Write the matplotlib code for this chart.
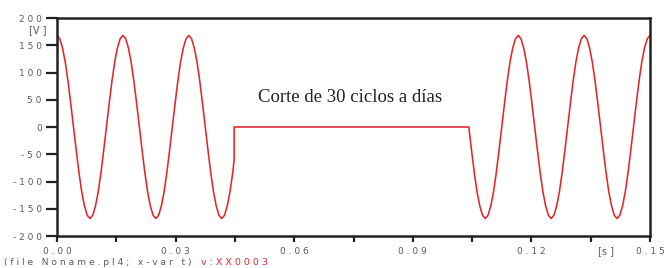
import numpy as np
import matplotlib
matplotlib.use("Agg")
import matplotlib.pyplot as plt

# ATP/EMTP output, sampled every 15 electrical degrees (60 Hz)
step = 1.0 / 1440.0

# before the cut: t = 0 ... 64*step
v_before = [168, 162, 145, 119, 84, 43, 0, -43, -84, -119, -145, -162,
            -168, -162, -145, -119, -84, -43, 0, 43, 84, 119, 145, 162,
            168, 162, 145, 119, 84, 43, 0, -43, -84, -119, -145, -162,
            -168, -162, -145, -119, -84, -43, 0, 43, 84, 119, 145, 162,
            168, 162, 145, 119, 84, 43, 0, -43, -84, -119, -145, -162,
            -168, -162, -145, -119, -84]
t_cut = 0.0448
v_at_cut = -60

# after reclosing: t = 150*step ... 216*step
t_reclose = 150 * step
v_after = [0, -43, -84, -119, -145, -162, -168, -162, -145, -119, -84, -43,
           0, 43, 84, 119, 145, 162, 168, 162, 145, 119, 84, 43,
           0, -43, -84, -119, -145, -162, -168, -162, -145, -119, -84, -43,
           0, 43, 84, 119, 145, 162, 168, 162, 145, 119, 84, 43,
           0, -43, -84, -119, -145, -162, -168, -162, -145, -119, -84, -43,
           0, 43, 84, 119, 145, 162, 168]

y_ticks = [-200, -150, -100, -50, 0, 50, 100, 150, 200]
x_labels = [0.00, 0.03, 0.06, 0.09, 0.12, 0.15]
x_minor = [0.015, 0.045, 0.075, 0.105, 0.135]

t1 = np.arange(len(v_before)) * step
t2 = t_reclose + np.arange(len(v_after)) * step
t = np.concatenate([t1, [t_cut, t_cut], t2])
v = np.concatenate([v_before, [v_at_cut, 0], v_after])


def spaced(s):
    return " ".join(s)


grey = "#5a5a5a"
red = "#e3262b"

fig = plt.figure(figsize=(6.67, 2.68), dpi=100)
ax = fig.add_axes([0.0855, 0.1194, 0.8890, 0.8134])
ax.plot(t, v, color=red, lw=1.15)

ax.set_xlim(0, 0.15)
ax.set_ylim(-200, 200)

ax.set_yticks(y_ticks)
ax.set_yticklabels([spaced(str(y)) for y in y_ticks])
ax.set_xticks(x_labels)
ax.set_xticklabels([spaced(f"{x:.2f}") for x in x_labels])
ax.set_xticks(x_minor, minor=True)
ax.tick_params(axis="both", which="both", direction="out", width=1.6,
               color="#222222", labelsize=6.5, labelcolor=grey)
ax.tick_params(axis="y", length=8, pad=3)
ax.tick_params(axis="x", which="both", length=4, pad=4)

for s in ax.spines.values():
    s.set_linewidth(1.8)
    s.set_color("#222222")

fig.text(0.057, 0.875, "[V ]", fontsize=7, color=grey, ha="center")
fig.text(0.908, 0.052, "[s ]", fontsize=7, color=grey, ha="center")

ax.text(0.0508, 55, "Corte de 30 ciclos a días", family="Liberation Serif",
        fontsize=13.5, color="#222222", ha="left", va="center")

fig.text(0.006, 0.012, spaced("(file Noname.pl4; x-var t)"), fontsize=6.6,
         color=grey, ha="left")
fig.text(0.301, 0.012, spaced("v:XX0003"), fontsize=6.8, color=red, ha="left")

fig.savefig("out.png", dpi=100)
